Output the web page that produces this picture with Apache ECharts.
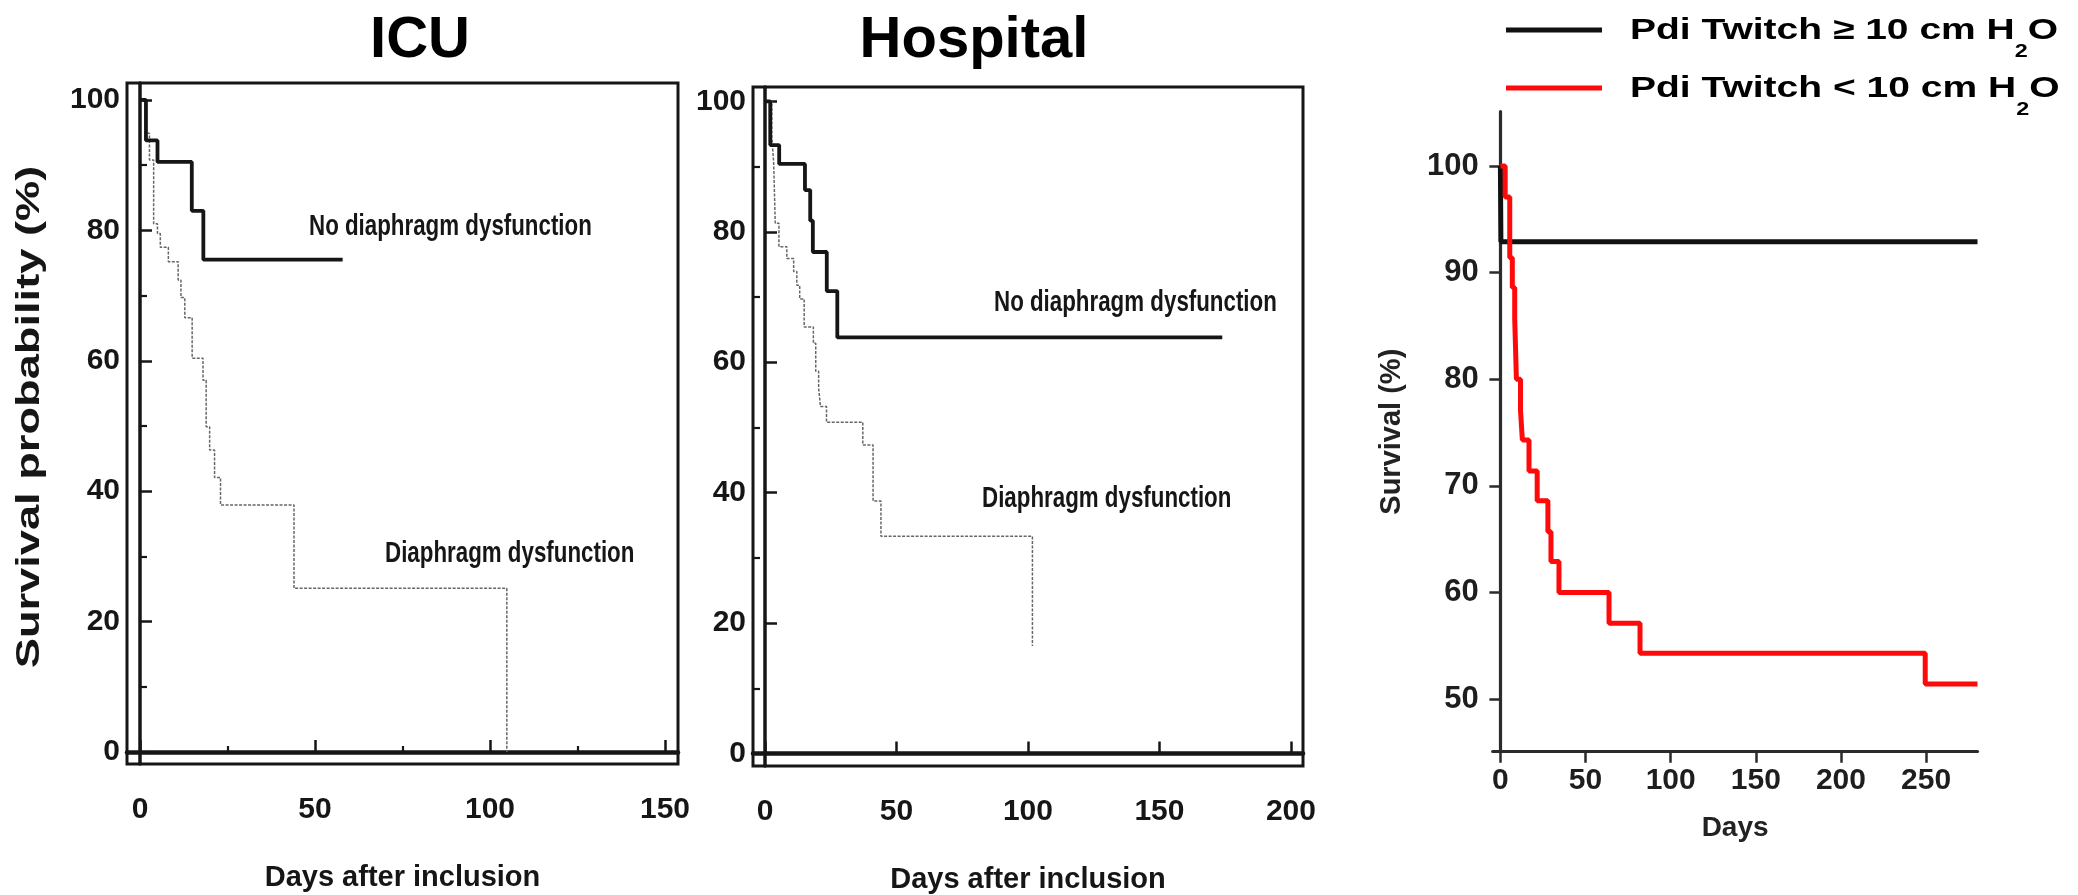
<!DOCTYPE html>
<html>
<head>
<meta charset="utf-8">
<script src="https://cdn.jsdelivr.net/npm/echarts@6/dist/echarts.min.js"></script>
<style>
  html, body { margin: 0; padding: 0; background: #fff; }
  #chart { width: 2078px; height: 895px; }
</style>
</head>
<body>
<div id="chart"></div>
<script>
// ICU panel (days, survival % after each step)
const icuNoDysDays = [0, 1.7, 5.0, 14.8, 18.1, 57.9];
const icuNoDysSurv = [100, 93.8, 90.5, 83.0, 75.5, 75.5];
const icuDysDays = [0, 1.7, 2.7, 3.9, 5.0, 5.8, 8.1, 10.9, 11.7, 12.8, 14.9, 18.0, 18.9, 19.9, 21.3, 23.0, 44.0, 104.8];
const icuDysSurv = [100, 94.9, 90.8, 81.0, 79.5, 77.4, 75.2, 72.4, 69.7, 66.6, 60.4, 57.0, 49.9, 46.3, 42.1, 37.9, 25.1, 0];

// Hospital panel
const hospNoDysDays = [0, 2.0, 5.4, 15.2, 17.2, 18.2, 23.5, 27.5, 173.9];
const hospNoDysSurv = [100, 93.3, 90.4, 86.4, 81.7, 76.9, 70.9, 63.8, 63.8];
const hospDysDays = [0, 2.6, 3.3, 3.9, 5.3, 8.3, 10.9, 12.1, 13.2, 14.9, 18.4, 19.3, 20.4, 21.1, 23.4, 37.2, 41.1, 44.1, 101.7];
const hospDysSurv = [100, 94.6, 90.6, 81.3, 77.7, 75.9, 73.9, 71.8, 69.7, 65.4, 62.9, 58.6, 56.0, 53.2, 50.8, 47.3, 38.7, 33.3, 16.5];

// Pdi twitch panel
const pdiHighDays = [0, 0.3, 280.2];
const pdiHighSurv = [100, 92.9, 92.9];
const pdiLowDays = [0, 2.8, 5.5, 7.0, 8.4, 9.4, 11.8, 12.9, 16.8, 21.6, 27.9, 29.7, 34.4, 63.8, 82.0, 249.5, 280.2];
const pdiLowSurv = [100, 97.1, 91.4, 88.6, 85.7, 80.0, 77.1, 74.3, 71.4, 68.6, 65.7, 62.9, 60.0, 57.1, 54.3, 51.4, 51.4];

// tick labels
const icuDayTicks = [0, 50, 100, 150];
const icuDayMinor = [25, 75, 125];
const hospDayTicks = [0, 50, 100, 150, 200];
const survTicks = [0, 20, 40, 60, 80, 100];
const survMinor = [10, 30, 50, 70, 90];
const pdiDayTicks = [0, 50, 100, 150, 200, 250];
const pdiSurvTicks = [50, 60, 70, 80, 90, 100];

const sans = "'Liberation Sans', Arial, Helvetica, sans-serif";
const ink = '#161616';

function stairs(days, surv) {
  const pts = [[days[0], surv[0]]];
  for (let i = 1; i < days.length; i++) {
    pts.push([days[i], surv[i - 1]]);
    pts.push([days[i], surv[i]]);
  }
  return pts;
}

function leftXAxis(grid, min, max, ticks) {
  return {
    type: 'value', gridIndex: grid, min: min, max: max, position: 'bottom',
    name: 'Days after inclusion', nameLocation: 'middle', nameGap: 99,
    nameTextStyle: { fontFamily: sans, fontWeight: 'bold', fontSize: 29, color: ink },
    axisLine: { show: true, lineStyle: { color: ink, width: 4.5 } },
    axisTick: { show: true, inside: true, length: 12, customValues: ticks, lineStyle: { color: ink, width: 2.5 } },
    axisLabel: { customValues: ticks, margin: 31, fontFamily: sans, fontWeight: 'bold', fontSize: 30, color: ink },
    splitLine: { show: false }
  };
}
function leftYAxis(grid, min, max) {
  return {
    type: 'value', gridIndex: grid, min: min, max: max, position: 'left',
    axisLine: { show: true, lineStyle: { color: ink, width: 3.5 } },
    axisTick: { show: true, inside: true, length: 12, customValues: survTicks, lineStyle: { color: ink, width: 2.5 } },
    axisLabel: { customValues: survTicks, margin: 7, fontFamily: sans, fontWeight: 'bold', fontSize: 30, color: ink },
    splitLine: { show: false }
  };
}
function minorAxis(grid, min, max, ticks, len, pos) {
  return {
    type: 'value', gridIndex: grid, min: min, max: max, position: pos,
    axisLine: { show: false },
    axisTick: { show: true, inside: true, length: len, customValues: ticks, lineStyle: { color: ink, width: 2.2 } },
    axisLabel: { show: false },
    splitLine: { show: false }
  };
}
function note(x, y, text) {
  return { type: 'text', x: x, y: y, scaleX: 0.77,
    style: { text: text, fontFamily: sans, fontWeight: 'bold', fontSize: 29, fill: ink, align: 'left', verticalAlign: 'middle' } };
}
function legendText(y, text) {
  return { type: 'text', x: 1630, y: y, scaleX: 1.3,
    style: { text: text, align: 'left', verticalAlign: 'middle',
      rich: { a: { fontFamily: sans, fontWeight: 'bold', fontSize: 30, color: '#111' },
              s: { fontFamily: sans, fontWeight: 'bold', fontSize: 18, color: '#111', padding: [42, 0, 0, 0] } } } };
}

const dotted = { color: '#666', width: 1.5, type: [3, 1.5] };
const solid = { color: ink, width: 3.8 };

const option = {
  backgroundColor: '#fff',
  animation: false,
  grid: [
    { left: 127, top: 83, width: 551, height: 681, show: true, borderColor: ink, borderWidth: 3, outerBoundsMode: 'none' },
    { left: 753, top: 87, width: 550, height: 679, show: true, borderColor: ink, borderWidth: 3, outerBoundsMode: 'none' },
    { left: 1492.7, top: 111.7, width: 484.8, height: 640, outerBoundsMode: 'none' }
  ],
  xAxis: [
    leftXAxis(0, -3.714, 153.71, icuDayTicks),
    minorAxis(0, -3.714, 153.71, icuDayMinor, 6, 'bottom'),
    leftXAxis(1, -4.56, 204.6, hospDayTicks),
    {
      type: 'value', gridIndex: 2, min: -4.52, max: 280.2, position: 'bottom',
      name: 'Days', nameLocation: 'middle', nameGap: 63,
      nameTextStyle: { fontFamily: sans, fontWeight: 'bold', fontSize: 28, color: '#222' },
      axisLine: { show: true, lineStyle: { color: '#2b2b2b', width: 3.2 } },
      axisTick: { show: true, length: 11, customValues: pdiDayTicks, lineStyle: { color: '#2b2b2b', width: 2.5 } },
      axisLabel: { customValues: pdiDayTicks, margin: 14, fontFamily: sans, fontWeight: 'bold', fontSize: 30, color: '#1e1e1e' },
      splitLine: { show: false }
    }
  ],
  yAxis: [
    leftYAxis(0, -1.84, 102.6),
    minorAxis(0, -1.84, 102.6, survMinor, 7, 'left'),
    leftYAxis(1, -1.92, 102.2),
    minorAxis(1, -1.92, 102.2, survMinor, 7, 'left'),
    {
      type: 'value', gridIndex: 2, min: 45.06, max: 105.09, position: 'left',
      name: 'Survival (%)', nameLocation: 'middle', nameGap: 86, nameRotate: 90,
      nameTextStyle: { fontFamily: sans, fontWeight: 'bold', fontSize: 29, color: '#222' },
      axisLine: { show: true, lineStyle: { color: '#2b2b2b', width: 3.2 } },
      axisTick: { show: true, length: 11, customValues: pdiSurvTicks, lineStyle: { color: '#2b2b2b', width: 2.5 } },
      axisLabel: { customValues: pdiSurvTicks, margin: 14, fontFamily: sans, fontWeight: 'bold', fontSize: 31, color: '#1e1e1e' },
      splitLine: { show: false }
    }
  ],
  series: [
    { name: 'ICU diaphragm dysfunction', type: 'line', xAxisIndex: 0, yAxisIndex: 0, symbol: 'none',
      data: stairs(icuDysDays, icuDysSurv), lineStyle: dotted, z: 3 },
    { name: 'ICU no diaphragm dysfunction', type: 'line', xAxisIndex: 0, yAxisIndex: 0, symbol: 'none',
      data: stairs(icuNoDysDays, icuNoDysSurv), lineStyle: solid, z: 4 },
    { name: 'Hospital diaphragm dysfunction', type: 'line', xAxisIndex: 2, yAxisIndex: 2, symbol: 'none',
      data: stairs(hospDysDays, hospDysSurv), lineStyle: dotted, z: 3 },
    { name: 'Hospital no diaphragm dysfunction', type: 'line', xAxisIndex: 2, yAxisIndex: 2, symbol: 'none',
      data: stairs(hospNoDysDays, hospNoDysSurv), lineStyle: solid, z: 4 },
    { name: 'Pdi Twitch >= 10', type: 'line', xAxisIndex: 3, yAxisIndex: 4, symbol: 'none',
      data: stairs(pdiHighDays, pdiHighSurv), lineStyle: { color: '#111', width: 5 }, z: 3 },
    { name: 'Pdi Twitch < 10', type: 'line', xAxisIndex: 3, yAxisIndex: 4, symbol: 'none',
      data: stairs(pdiLowDays, pdiLowSurv), lineStyle: { color: '#ff0a0a', width: 5 }, z: 4 }
  ],
  graphic: [
    { type: 'text', x: 420, y: 41, style: { text: 'ICU', fontFamily: sans, fontWeight: 'bold', fontSize: 58, fill: '#000', align: 'center', verticalAlign: 'middle' } },
    { type: 'text', x: 974, y: 41, style: { text: 'Hospital', fontFamily: sans, fontWeight: 'bold', fontSize: 58, fill: '#000', align: 'center', verticalAlign: 'middle' } },
    { type: 'text', x: 30, y: 417, rotation: Math.PI / 2, scaleX: 1.33,
      style: { text: 'Survival probability (%)', fontFamily: sans, fontWeight: 'bold', fontSize: 34, fill: ink, align: 'center', verticalAlign: 'middle' } },
    note(309, 227, 'No diaphragm dysfunction'),
    note(385, 554, 'Diaphragm dysfunction'),
    note(994, 303, 'No diaphragm dysfunction'),
    note(982, 499, 'Diaphragm dysfunction'),
    // legend of the Pdi panel
    { type: 'line', shape: { x1: 1506, y1: 30, x2: 1602, y2: 30 }, style: { stroke: '#111', lineWidth: 5 } },
    { type: 'line', shape: { x1: 1506, y1: 88, x2: 1602, y2: 88 }, style: { stroke: '#ff0a0a', lineWidth: 5 } },
    legendText(31, '{a|Pdi Twitch \u2265 10 cm H}{s|2}{a|O}'),
    legendText(89, '{a|Pdi Twitch < 10 cm H}{s|2}{a|O}')
  ]
};

const chart = echarts.init(document.getElementById('chart'));
chart.setOption(option);
</script>
</body>
</html>
